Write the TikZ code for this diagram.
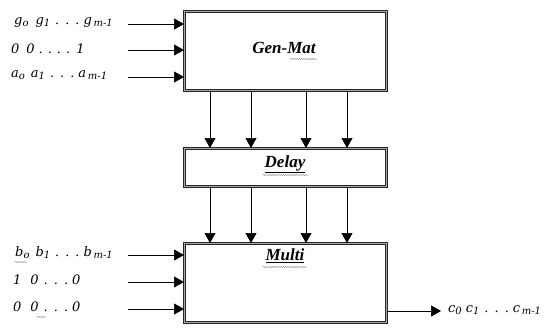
\documentclass[tikz,border=0pt]{standalone}
\usepackage{fontspec}
\setmainfont{Liberation Serif}
\newfontfamily\labelfont{DejaVu Serif}
\usetikzlibrary{arrows.meta,decorations.pathmorphing}
\newcommand{\lowidx}[1]{\raisebox{-0.3ex}{\fontsize{10}{11}\selectfont #1}}
\newcommand{\spdots}{\hspace{5pt}.\hspace{6pt}.\hspace{6pt}.\hspace{4pt}}
\begin{document}
\begin{tikzpicture}[x=1pt,y=-1pt,
  block/.style={draw=black!85, double=black!35, double distance=1.3pt, line width=0.6pt,
    anchor=north west, minimum width=202pt, inner sep=0pt},
  arr/.style={-{Triangle[length=10pt,width=11pt]}, line width=0.7pt},
  lbl/.style={anchor=west, inner sep=0pt, font=\labelfont\fontsize{13}{15}\selectfont\itshape},
  ttl/.style={font=\fontsize{17}{19}\selectfont\bfseries\itshape, inner sep=0pt},
  squiggle/.style={draw=black!40, line width=0.4pt, decorate,
    decoration={snake, amplitude=0.7pt, segment length=2.2pt}}]
\useasboundingbox (0,0) rectangle (549,327);

% blocks
\node[block, minimum height=79pt] (gm) at (184,11) {};
\node[block, minimum height=38pt] (dl) at (184,148) {};
\node[block, minimum height=79pt] (mu) at (184,243) {};

\node[ttl] (gmt) at (284,48) {Gen-Mat};
\node[ttl] (dlt) at (285,164) {\underline{Delay}};
\node[ttl] (mut) at (285,256) {\underline{Multi}};

% spelling marks under the titles
\draw[squiggle] (290,59) -- (317,59);
\draw[squiggle] (263,175) -- (308,175);
\draw[squiggle] (263,267) -- (307,267);

% vertical links
\foreach \x in {210,251,306,347} {
  \draw[arr] (gm.south -| \x,0) -- (dl.north -| \x,0);
  \draw[arr] (dl.south -| \x,0) -- (mu.north -| \x,0);
}

% inputs of Gen-Mat
\node[lbl] (g) at (14,22) {g\lowidx{o}\hspace{7pt}g\lowidx{1}\spdots g\lowidx{\,m-1}};
\node[lbl] (u) at (11,49) {0\hspace{7pt}0\hspace{4pt}.\hspace{5pt}.\hspace{5pt}.\hspace{5pt}.\hspace{6pt}1};
\node[lbl] (a) at (11,75) {a\lowidx{o}\hspace{6pt}a\lowidx{1}\spdots a\lowidx{\,m-1}};
\coordinate (gs) at (128,24);
\coordinate (us) at (128,50);
\coordinate (as) at (128,77);
\draw[arr] (gs) -- (gm.west |- gs);
\draw[arr] (us) -- (gm.west |- us);
\draw[arr] (as) -- (gm.west |- as);

% inputs of Multi
\node[lbl] (b) at (15,253) {b\lowidx{o}\hspace{6pt}b\lowidx{1}\spdots b\lowidx{\,m-1}};
\node[lbl] (e) at (13,280) {1\hspace{9pt}0\spdots 0};
\node[lbl] (z) at (13,307) {0\hspace{9pt}0\spdots 0};
\draw[squiggle] (15,262) -- (27,262);
\draw[squiggle] (37,317) -- (45,317);
\coordinate (bs) at (128,255);
\coordinate (es) at (128,282);
\coordinate (zs) at (128,309);
\draw[arr] (bs) -- (mu.west |- bs);
\draw[arr] (es) -- (mu.west |- es);
\draw[arr] (zs) -- (mu.west |- zs);

% output
\node[lbl] (c) at (448,310) {c\lowidx{0}\hspace{4pt}c\lowidx{1}\spdots c\lowidx{\,m-1}};
\coordinate (cs) at (441,311);
\draw[arr] (mu.east |- cs) -- (cs);
\end{tikzpicture}
\end{document}
